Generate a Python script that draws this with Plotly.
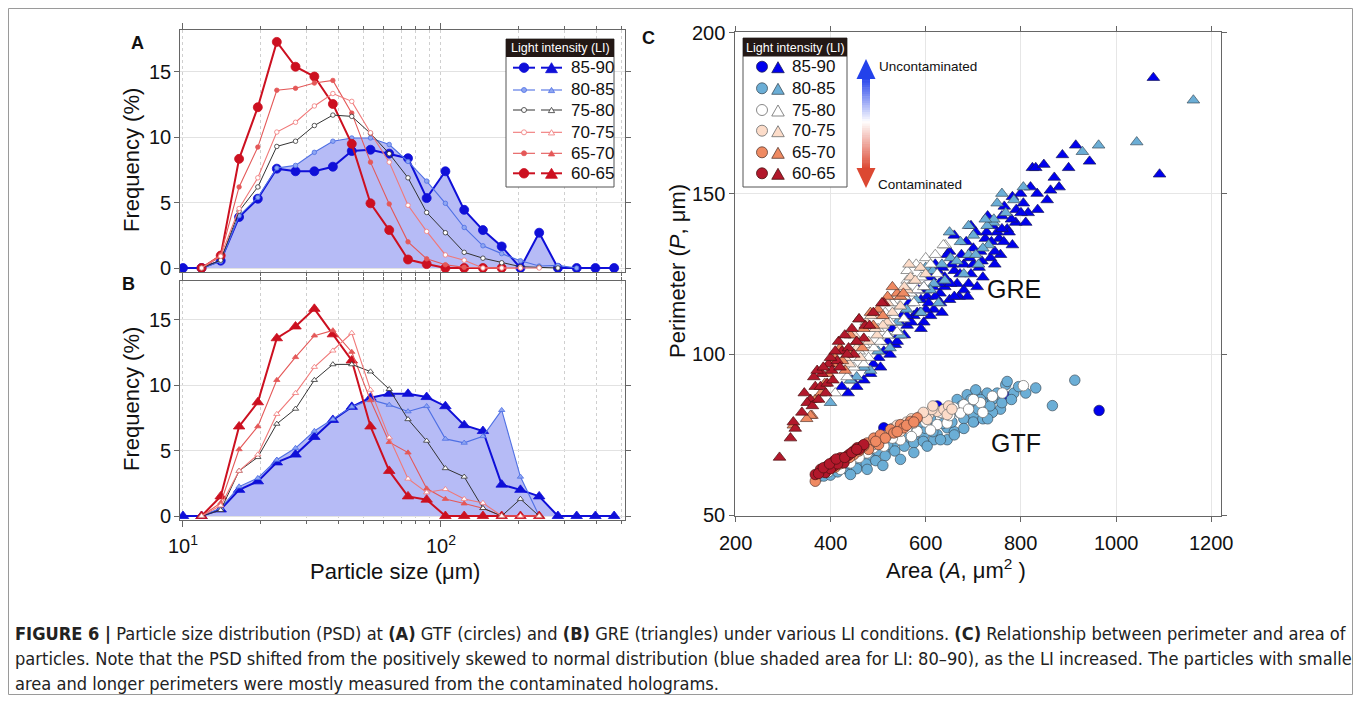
import math
import plotly.graph_objects as go

# The page keeps the browser's default 8px body margin, so the figure is 1345x687 at page offset (8, 8).
W, H = 1345, 687
OX, OY = 8, 8

# ---------------- data: particle size distributions ----------------
SIZES_UM = [10.0, 11.8, 14.0, 16.5, 19.5, 23.1, 27.3, 32.3, 38.1, 45.1, 53.3, 63.0,
            74.5, 88.0, 104.0, 123.0, 145.4, 171.9, 203.2, 240.2, 283.9, 335.6, 396.7, 468.9]
LI_LABELS = ["85-90", "80-85", "75-80", "70-75", "65-70", "60-65"]
N = None
# (A) GTF, frequency %
GTF_85_90 = [0, 0, 0.56, 3.9, 5.3, 7.6, 7.4, 7.4, 7.75, 8.95, 9.05, 8.75, 8.4, 5.35, 7.4, 4.45, 2.9, 1.65, 0, 2.7, 0, 0, 0, 0]
GTF_80_85 = [N, 0, 0.5, 4.0, 5.4, 7.65, 7.85, 8.85, 9.7, 9.95, 9.95, 9.45, 8.15, 6.65, 4.95, 3.1, 1.7, 1.1, 0.55, 0.15, 0.2, 0, N, N]
GTF_75_80 = [N, 0, 0.6, 4.35, 6.2, 9.3, 9.7, 10.9, 11.7, 11.6, 10.3, 8.75, 6.9, 4.25, 2.7, 1.2, 0.75, 0.4, 0.1, 0.05, 0, N, N, N]
GTF_70_75 = [N, 0, 0.9, 4.55, 6.9, 10.4, 11.15, 12.4, 13.35, 12.75, 10.35, 8.1, 4.8, 2.8, 1.0, 0.6, 0, 0, 0, 0, N, N, N, N]
GTF_65_70 = [N, 0, 1.0, 6.2, 9.25, 13.6, 13.75, 14.15, 14.35, 11.85, 8.1, 4.9, 2.0, 0.7, 0.25, 0.05, 0, 0, 0, N, N, N, N, N]
GTF_60_65 = [N, 0, 0.95, 8.35, 12.3, 17.3, 15.4, 14.65, 12.55, 9.5, 4.95, 2.9, 0.65, 0.3, 0, 0, 0, 0, N, N, N, N, N, N]
# (B) GRE, frequency %
GRE_85_90 = [0, 0, 0.5, 2.0, 2.65, 4.1, 4.7, 6.05, 7.35, 8.35, 9.05, 9.35, 9.35, 9.1, 8.4, 6.95, 6.5, 2.4, 2.0, 1.5, 0, 0, 0, 0]
GRE_80_85 = [N, 0, 0.6, 2.25, 2.9, 4.3, 5.2, 6.5, 7.4, 8.35, 8.9, 8.5, 8.0, 8.4, 5.9, 5.6, 6.1, 8.1, 3.0, 0, N, N, N, N]
GRE_75_80 = [N, 0, 0.45, 3.45, 4.5, 7.05, 8.2, 10.4, 11.6, 11.6, 11.05, 9.7, 7.4, 5.75, 3.65, 3.0, 0.6, 0, 1.3, 0, N, N, N, N]
GRE_70_75 = [N, 0, 0.8, 3.45, 4.7, 7.8, 9.4, 11.4, 12.65, 14.0, 9.65, 6.0, 2.85, 1.8, 2.05, 1.3, 1.0, 0, 0, 0, N, N, N, N]
GRE_65_70 = [N, 0, 1.0, 5.1, 6.85, 10.4, 12.15, 13.8, 14.2, 12.55, 8.85, 5.65, 4.85, 2.1, 1.3, 0.95, 0.6, 0, N, N, N, N, N, N]
GRE_60_65 = [N, 0, 1.5, 6.85, 8.7, 13.6, 14.5, 15.85, 13.9, 11.9, 6.85, 3.45, 1.5, 1.25, 0, 0, 0, 0, 0, 0, N, N, N, N]

# tick labels
PSD_XTICKS = [10, 100]
PSD_XTICKTEXT = ["10<sup>1</sup>", "10<sup>2</sup>"]
PSD_YTICKS = [0, 5, 10, 15]
C_XTICKS = [200, 400, 600, 800, 1000, 1200]
C_YTICKS = [50, 100, 150, 200]

# ---------------- data: (C) area vs perimeter (A um^2, P um) ----------------
GRE_PTS_85_90 = [(1078,186),(1091,156),(915,165),(887,162),(944,160),(824,158),(831,158),(848,159),(880,152),(862,151),
    (834,150),(799,150),(782,149),(855,148),(805,147),(815,144),(789,141),(771,139),(695,140),(730,143),(754,136),(782,134),
    (757,131),(736,130),(764,135),(690,122),(666,122),(712,127),(700,133),(680,128),(660,126),(640,124),(650,132),(620,128),
    (610,124),(600,120),(590,117),(630,119),(670,118),(720,124),(745,128),(725,136),(705,138),(685,135),(660,137),(645,131),
    (625,126),(565,116),(550,112),(575,112),(596,110),(582,113),(617,114),(634,113),(603,118),(631,116),(561,109),(543,106),
    (536,103),(501,99),(484,94),(445,92),(424,90),(520,104),(555,106),(590,108),(610,112),(650,117),(680,120),(740,140),
    (760,143),(790,145),(820,152),(745,132),(775,138),(810,141),(835,145),(870,155),(900,158),(512,101),(530,108),(470,96),
    (455,90),(490,97),(600,114),(620,118),(640,121),(700,128),(715,132),(750,138),(655,128),(675,131),(695,125),(585,120),
    (570,110),(545,110),(800,144),(765,146),(728,138),(708,121),(688,118),(660,118),(615,121),(635,127),(672,125),
    (692,130),(718,129),(738,135),(760,139),(780,142),(652,122),(628,122),(606,116),(588,113),(560,112),(540,104),
    (525,100),(505,96),(470,92),(437,88)]
GRE_PTS_80_85 = [(1162,179),(1043,166),(963,165),(929,163),(750,147),(768,144),(742,141),(729,140),(743,142),(725,142),
    (732,134),(711,128),(690,131),(673,135),(652,130),(634,128),(617,122),(610,120),(627,116),(596,121),(400,85),(442,92),
    (484,95),(600,127),(580,117),(560,114),(540,110),(520,106),(500,101),(470,96),(455,93),(640,123),(700,137),(760,150),
    (680,125),(720,133),(650,138),(665,129),(705,131),(785,148),(805,152),(690,140),(615,126),(590,113),(548,106),(525,102)]
GRE_PTS_75_80 = [(410,88),(449,96),(470,97),(491,102),(519,106),(540,107),(554,111),(533,112),(568,119),(582,120),(561,123),
    (561,126),(624,125),(596,121),(641,134),(637,134),(600,130),(580,128),(505,104),(525,110),(545,115),(480,99),(460,101),
    (435,93),(590,124),(610,128),(620,131),(575,116),(555,118),(500,108),(515,113),(470,103),(530,116),(445,99)]
GRE_PTS_70_75 = [(463,99),(498,106),(519,110),(547,115),(561,120),(575,123),(494,108),(589,127),(568,124),(578,123),(480,104),
    (530,113),(510,109),(540,118),(455,102),(440,97),(430,99),(475,110),(555,121),(600,125),(520,116),(505,112),(565,128),
    (485,112),(450,106)]
GRE_PTS_65_70 = [(361,81),(358,81),(368,86),(442,106),(431,95),(484,113),(540,119),(467,102),(547,118),(553,119),(410,99),
    (395,94),(380,88),(455,104),(470,108),(500,114),(420,102),(350,80),(322,78),(520,118),(510,112),(490,109),(425,98),
    (405,97),(530,121),(460,111),(436,101),(388,91)]
GRE_PTS_60_65 = [(293,68),(316,74),(326,77),(322,79),(358,86),(351,85),(368,90),(379,90),(393,91),(396,97),(382,94),(403,95),
    (417,104),(424,101),(438,102),(414,98),(473,109),(470,105),(512,116),(508,116),(449,100),(340,82),(345,88),(365,93),
    (372,95),(385,96),(400,99),(430,106),(445,108),(460,111),(390,88),(405,92),(362,84),(375,86),(420,96),(435,100),
    (410,101),(455,104),(490,113),(482,109)]

GTF_PTS_85_90 = [(512,77.2),(624,84),(701,79.2),(771,86.8),(964,82.6),(458,68.5),(590,76)]
GTF_PTS_80_85 = [(375,62),(386,62.2),(400,62.5),(415,63.5),(435,64.3),(449,65.3),(470,67.4),(491,68.9),(512,70),(533,72.5),
    (554,73),(575,74.6),(596,75.1),(624,75.1),(645,77.2),(666,86),(687,87.5),(708,87.5),(729,88),(722,85),(740,86),(757,83),
    (729,83),(701,81),(680,80),(768,90.6),(771,91.6),(785,88),(810,88),(831,89.6),(866,84.1),(913,92),(617,73.5),(645,73.5),
    (660,76),(680,77),(700,79),(720,80),(740,82),(760,85),(650,80),(670,82),(690,84),(710,83),(730,80),(750,88),(620,78),
    (600,77),(580,76),(560,75),(540,74),(520,72),(500,70),(480,68),(460,66),(440,66),(420,64.5),(395,63.5),(455,64.5),
    (475,66),(495,67),(515,68.5),(535,70),(555,71.5),(575,72.5),(595,73),(615,76),(635,78.5),(655,79),(675,84),(695,86),
    (715,86),(735,84),(705,89),(780,86),(795,90),(640,83),(610,80),(590,79),(442,62.7),(477,64.3),(547,67.4),(603,71.5),
    (631,73.5),(510,65.5),(575,69.5),(660,75)]
GTF_PTS_75_80 = [(659,83.4),(680,84.4),(715,85),(761,88),(805,90.3),(624,78.2),(645,78.7),(673,81.8),(582,76.1),(547,73.5),
    (512,71.5),(477,69.4),(442,66.3),(421,64.3),(700,86),(740,87),(600,79),(560,77),(530,74),(490,71),(460,68),(630,82),
    (690,83),(720,82),(650,81),(395,63.5),(610,76.5),(570,74.5)]
GTF_PTS_70_75 = [(589,80.8),(606,81.3),(624,82.3),(638,82.9),(575,78.7),(603,79.8),(648,84),(613,82.9),(547,76.1),(645,81.3),
    (560,79),(530,77),(520,75),(500,73),(570,80),(595,82),(615,84),(655,83),(540,78),(510,74),(490,72),(480,71)]
GTF_PTS_65_70 = [(368,60.6),(477,72.5),(491,74),(505,75),(526,76.7),(547,78.2),(568,79.2),(582,80.3),(480,70.5),(501,72),
    (533,75.6),(554,77.2),(449,68.9),(430,67),(410,65),(390,63.5),(460,70),(470,71.5),(515,74),(540,76),(560,78),(575,79),
    (420,66),(440,68),(495,73)]
GTF_PTS_60_65 = [(368,62.7),(379,64.3),(393,65.3),(407,66.8),(421,67.9),(435,68.4),(449,70),(466,71.5),(407,65.3),(428,66.3),
    (456,71),(389,63.3),(400,64.5),(415,66),(440,69),(460,70.5),(375,63),(385,64.8),(398,66),(412,67.5),(430,68),(445,69.5),
    (470,72),(455,70.5)]

# ---------------- styles ----------------
FONT = "Liberation Sans, Arial, sans-serif"
FILL = "rgb(182,187,246)"
LINE_COL = ["#0f0fd8", "#4f70e4", "#333333", "#f07878", "#e45858", "#cc1020"]
LINE_W = [2.0, 1.1, 1.0, 1.1, 1.1, 2.0]
MK_SIZE = [9, 4.5, 4.5, 4.5, 4.5, 9]
MK_FILL = ["#0f0fd8", "#8ea6f2", "#ffffff", "#ffffff", "#e45858", "#cc1020"]
SC_FILL = ["#0000ee", "#6baed6", "#ffffff", "#fcdcc9", "#ef8a62", "#b2182b"]
SC_EDGE = ["#1a1a5a", "#3d4f5c", "#6a6a6a", "#6a6a6a", "#5a3a30", "#4a1010"]

def PX(x):  # page pixel -> paper x
    return (x - OX) / W

def PY(y):  # page pixel -> paper y
    return 1 - (y - OY) / H

def xd(a, b):
    return [PX(a), PX(b)]

def yd(top, bot):
    return [PY(bot), PY(top)]

fig = go.Figure()

# ---- panels A and B ----
panels = [("x", "y", [GTF_85_90, GTF_80_85, GTF_75_80, GTF_70_75, GTF_65_70, GTF_60_65], "circle"),
          ("x2", "y2", [GRE_85_90, GRE_80_85, GRE_75_80, GRE_70_75, GRE_65_70, GRE_60_65], "triangle-up")]
draw_order = [0, 1, 5, 4, 2, 3]
for xa, ya, series, sym in panels:
    for k in (0, 1):
        fig.add_trace(go.Scatter(x=SIZES_UM, y=series[k], mode="lines", fill="tozeroy", fillcolor=FILL,
                                 line=dict(width=0, color=FILL), xaxis=xa, yaxis=ya, hoverinfo="skip",
                                 showlegend=False))
    for k in draw_order:
        fig.add_trace(go.Scatter(x=SIZES_UM, y=series[k], mode="lines+markers", xaxis=xa, yaxis=ya,
                                 line=dict(color=LINE_COL[k], width=LINE_W[k]),
                                 marker=dict(symbol=sym, size=MK_SIZE[k] + (1 if sym != "circle" else 0),
                                             color=MK_FILL[k], line=dict(color=LINE_COL[k], width=0.8)),
                                 name=LI_LABELS[k], showlegend=False))

# ---- panel C ----
gre_sets = [GRE_PTS_85_90, GRE_PTS_80_85, GRE_PTS_75_80, GRE_PTS_70_75, GRE_PTS_65_70, GRE_PTS_60_65]
gtf_sets = [GTF_PTS_85_90, GTF_PTS_80_85, GTF_PTS_75_80, GTF_PTS_70_75, GTF_PTS_65_70, GTF_PTS_60_65]
for sets, sym, sz in ((gre_sets, "triangle-up", 11), (gtf_sets, "circle", 10.5)):
    for k, pts in enumerate(sets):
        fig.add_trace(go.Scatter(x=[a for a, p in pts], y=[p for a, p in pts], mode="markers",
                                 xaxis="x3", yaxis="y3", showlegend=False, name=LI_LABELS[k],
                                 marker=dict(symbol=sym, size=sz, color=SC_FILL[k],
                                             line=dict(color=SC_EDGE[k], width=0.7))))

# ---- decorations in page pixels, converted to paper coordinates ----
shapes = []
annots = []

def rect(x0, y0, x1, y1, fill, line_col=None, lw=1):
    shapes.append(dict(type="rect", xref="paper", yref="paper", x0=PX(x0), x1=PX(x1), y0=PY(y1), y1=PY(y0),
                       fillcolor=fill, line=dict(color=line_col or fill, width=lw if line_col else 0),
                       layer="above"))

def hline(x0, x1, y, col, lw):
    shapes.append(dict(type="line", xref="paper", yref="paper", x0=PX(x0), x1=PX(x1), y0=PY(y), y1=PY(y),
                       line=dict(color=col, width=lw), layer="above"))

def circ(cx, cy, d, fill, edge, lw=0.8):
    r = d / 2
    shapes.append(dict(type="circle", xref="paper", yref="paper", x0=PX(cx - r), x1=PX(cx + r),
                       y0=PY(cy + r), y1=PY(cy - r), fillcolor=fill, line=dict(color=edge, width=lw),
                       layer="above"))

def tri(cx, cy, w, h, fill, edge, lw=0.8, up=True):
    if up:
        pts = [(cx - w / 2, cy + h / 2), (cx, cy - h / 2), (cx + w / 2, cy + h / 2)]
    else:
        pts = [(cx - w / 2, cy - h / 2), (cx, cy + h / 2), (cx + w / 2, cy - h / 2)]
    path = "M %.5f %.5f L %.5f %.5f L %.5f %.5f Z" % tuple(v for x, y in pts for v in (PX(x), PY(y)))
    shapes.append(dict(type="path", xref="paper", yref="paper", path=path, fillcolor=fill,
                       line=dict(color=edge, width=lw), layer="above"))

def txt(x, y, s, size, bold=False, angle=0, anchor="center", color="#111", family=FONT):
    annots.append(dict(x=PX(x), y=PY(y), xref="paper", yref="paper", text=("<b>%s</b>" % s) if bold else s,
                       showarrow=False, textangle=angle, xanchor=anchor, yanchor="middle",
                       font=dict(family=family, size=size, color=color)))

# tick labels, placed through the axes' own scales (log axes take log10 positions)
TICKFONT = dict(family=FONT, size=20, color="#111")
for v, t in zip(PSD_XTICKS, PSD_XTICKTEXT):
    annots.append(dict(x=math.log10(v), y=PY(544), xref="x2", yref="paper", text=t, showarrow=False,
                       yanchor="middle", font=TICKFONT))
for ya in ("y", "y2"):
    for v in PSD_YTICKS:
        annots.append(dict(x=PX(173), y=v, xref="paper", yref=ya, text=str(v), showarrow=False,
                           xanchor="right", yanchor="middle", font=TICKFONT))
for v in C_XTICKS:
    annots.append(dict(x=v, y=PY(543), xref="x3", yref="paper", text=str(v), showarrow=False,
                       yanchor="middle", font=TICKFONT))
for v in C_YTICKS:
    annots.append(dict(x=PX(727), y=v, xref="paper", yref="y3", text=str(v), showarrow=False,
                       xanchor="right", yanchor="middle", font=TICKFONT))

# legend A
LA_ROWS = [67.7, 90, 110, 132.3, 153.3, 173.3]
rect(506, 39, 614, 187, "white", "#555", 1)
rect(506, 39, 614, 57, "#231815")
txt(560, 48.5, "Light intensity (LI)", 12.5, color="white")
for k, yy in enumerate(LA_ROWS):
    hline(513, 535, yy, LINE_COL[k], LINE_W[k])
    hline(541, 562, yy, LINE_COL[k], LINE_W[k])
    d = MK_SIZE[k] + 0.5
    circ(524, yy, d, MK_FILL[k], LINE_COL[k])
    tri(551.5, yy, d * 1.25, d * 1.05, MK_FILL[k], LINE_COL[k])
    txt(569, yy, LI_LABELS[k], 17, anchor="left")

# legend C
LC_ROWS = [66.7, 88.3, 110, 130.7, 152.3, 173.3]
rect(743, 38, 847, 187, "white", "#555", 1)
rect(743, 38, 847, 56.5, "#231815")
txt(795, 47.5, "Light intensity (LI)", 12.5, color="white")
for k, yy in enumerate(LC_ROWS):
    circ(762, yy, 11, SC_FILL[k], SC_EDGE[k])
    tri(778, yy + 0.5, 12.5, 11, SC_FILL[k], SC_EDGE[k])
    txt(837, yy, LI_LABELS[k], 17, anchor="right")

# gradient arrow
def lerp(c1, c2, t):
    return "rgb(%d,%d,%d)" % tuple(round(a + (b - a) * t) for a, b in zip(c1, c2))

BLUE, WHITE, RED = (35, 65, 235), (255, 255, 255), (220, 72, 50)
y_top, y_mid, y_bot = 78, 122, 169
nseg = 40
for i in range(nseg):
    ya0 = y_top + (y_bot - y_top) * i / nseg
    ya1 = y_top + (y_bot - y_top) * (i + 1) / nseg + 0.6
    yc = (ya0 + ya1) / 2
    if yc < y_mid:
        col = lerp(BLUE, WHITE, (yc - y_top) / (y_mid - y_top))
    else:
        col = lerp(WHITE, RED, (yc - y_mid) / (y_bot - y_mid))
    rect(862, ya0, 870, ya1, col)
tri(866, 69, 19, 20, lerp(BLUE, BLUE, 0), lerp(BLUE, BLUE, 0), 0)
tri(866, 178, 19, 20, lerp(RED, RED, 0), lerp(RED, RED, 0), 0, up=False)
txt(877, 67, "Uncontaminated", 13.5, anchor="left")
txt(876, 184, "Contaminated", 13.5, anchor="left")

# outer frame
shapes.append(dict(type="rect", xref="paper", yref="paper", x0=PX(8.5), x1=PX(1352.5), y0=PY(694.5), y1=PY(8.5),
                   fillcolor="rgba(0,0,0,0)", line=dict(color="#9a9a9a", width=1), layer="above"))

# panel letters, titles, in-plot labels
txt(137, 43, "A", 18, bold=True)
txt(128, 284, "B", 18, bold=True)
txt(648, 38, "C", 18, bold=True)
txt(131, 160, "Frequency (%)", 22, angle=-90)
txt(131, 399, "Frequency (%)", 22, angle=-90)
txt(395, 571, "Particle size (μm)", 22)
txt(677, 271, "Perimeter (<i>P</i>, μm)", 22, angle=-90)
txt(956, 569, "Area (<i>A</i>, μm<sup>2</sup> )", 22)
txt(1014, 289, "GRE", 25)
txt(1016, 443, "GTF", 25)

CAPTION = [
    "<b>FIGURE 6 |</b> Particle size distribution (PSD) at <b>(A)</b> GTF (circles) and <b>(B)</b> GRE (triangles) under various LI conditions. <b>(C)</b> Relationship between perimeter and area of",
    "particles. Note that the PSD shifted from the positively skewed to normal distribution (blue shaded area for LI: 80–90), as the LI increased. The particles with smaller",
    "area and longer perimeters were mostly measured from the contaminated holograms.",
]
CAP_FONT = "DejaVu Sans Condensed, Liberation Sans Narrow, sans-serif"
for i, line in enumerate(CAPTION):
    txt(13, 633 + 25 * i, line, 18.1, anchor="left", color="#222", family=CAP_FONT)

# ---------------- axes ----------------
axis_common = dict(showline=True, linecolor="#666", linewidth=1, mirror="ticks", ticks="outside",
                   tickcolor="#666", showticklabels=False, zeroline=False)
minor_log = dict(tickmode="array", tickvals=[20, 30, 40, 50, 60, 70, 80, 90, 200, 300, 400, 500],
                 ticks="outside", ticklen=3, tickcolor="#666", showgrid=True, griddash="dot",
                 gridcolor="#cfcfcf", gridwidth=1)
LOGR = [0.9884, 2.7132]
fig.update_layout(
    width=W, height=H, autosize=False, margin=dict(l=0, r=0, t=0, b=0),
    paper_bgcolor="white", plot_bgcolor="white", showlegend=False,
    font=dict(family=FONT, color="#111"),
    xaxis=dict(domain=xd(180, 625), type="log", range=LOGR, anchor="y", tickvals=PSD_XTICKS,
               ticklen=6, showgrid=True, griddash="dot", gridcolor="#cfcfcf", minor=minor_log, **axis_common),
    yaxis=dict(domain=yd(30, 272), range=[-0.306, 18.21], anchor="x", tickvals=PSD_YTICKS, ticklen=5,
               showgrid=True, gridcolor="#e2e2e2", **axis_common),
    xaxis2=dict(domain=xd(180, 625), type="log", range=LOGR, anchor="y2", tickvals=PSD_XTICKS,
                ticklen=6, showgrid=True, griddash="dot", gridcolor="#cfcfcf", minor=minor_log, **axis_common),
    yaxis2=dict(domain=yd(281, 520), range=[-0.306, 17.98], anchor="x2", tickvals=PSD_YTICKS, ticklen=5,
                showgrid=True, gridcolor="#e2e2e2", **axis_common),
    xaxis3=dict(domain=xd(735, 1221), range=[199.5, 1220], anchor="y3",
                tickvals=C_XTICKS, ticklen=5, showgrid=True, gridcolor="#e6e6e6", **axis_common),
    yaxis3=dict(domain=yd(32, 516), range=[49.8, 200.2], anchor="x3", tickvals=C_YTICKS, ticklen=5,
                showgrid=True, gridcolor="#e6e6e6", **axis_common),
    shapes=shapes, annotations=annots,
)

fig.write_html("out.html", config={"staticPlot": True, "displayModeBar": False})
